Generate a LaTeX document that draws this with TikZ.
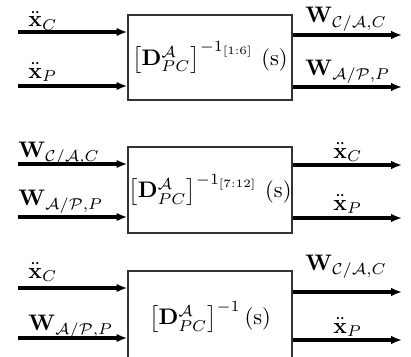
\documentclass[tikz,border=0pt]{standalone}
\usetikzlibrary{arrows.meta}
\begin{document}
\begin{tikzpicture}[x=0.445pt,y=-0.445pt,
 blk/.style={draw=black!80,line width=0.6pt,minimum width=73pt,inner sep=0pt,fill=white},
 arr/.style={line width=1.5pt,-{Latex[length=4.8pt,width=3.8pt]}},
 lbl/.style={inner sep=0pt,anchor=base west}]
\clip (0,0) rectangle (411,356);
% block 1
\node[blk,minimum height=37.8pt] (b1) at (210,57.5) {$\left[\mathbf{D}^{\mathcal{A}}_{PC}\right]^{-1_{[1:6]}}\,(\mathrm{s})$};
\coordinate (i11) at (18,32); \coordinate (i12) at (18,86);
\coordinate (o11) at (402,35); \coordinate (o12) at (402,87);
\draw[arr] (i11) -- (b1.west |- i11);
\draw[arr] (i12) -- (b1.west |- i12);
\draw[arr] (b1.east |- o11) -- (o11);
\draw[arr] (b1.east |- o12) -- (o12);
\node[lbl] (l11) at (28,27) {$\ddot{\mathbf{x}}_C$};
\node[lbl] (l12) at (28,78) {$\ddot{\mathbf{x}}_P$};
\node[lbl] (l13) at (305,23) {$\mathbf{W}_{\mathcal{C}/\mathcal{A},C}$};
\node[lbl] (l14) at (305,75) {$\mathbf{W}_{\mathcal{A}/\mathcal{P},P}$};
% block 2
\node[blk,minimum height=38.3pt] (b2) at (210,190) {$\left[\mathbf{D}^{\mathcal{A}}_{PC}\right]^{-1_{[7:12]}}\,(\mathrm{s})$};
\coordinate (i21) at (18,164); \coordinate (i22) at (18,217);
\coordinate (o21) at (402,165); \coordinate (o22) at (402,218);
\draw[arr] (i21) -- (b2.west |- i21);
\draw[arr] (i22) -- (b2.west |- i22);
\draw[arr] (b2.east |- o21) -- (o21);
\draw[arr] (b2.east |- o22) -- (o22);
\node[lbl] (l21) at (18,157) {$\mathbf{W}_{\mathcal{C}/\mathcal{A},C}$};
\node[lbl] (l22) at (18,205) {$\mathbf{W}_{\mathcal{A}/\mathcal{P},P}$};
\node[lbl] (l23) at (333,158) {$\ddot{\mathbf{x}}_C$};
\node[lbl] (l24) at (333,210) {$\ddot{\mathbf{x}}_P$};
% block 3
\node[blk,minimum height=40.9pt] (b3) at (210,317) {$\left[\mathbf{D}^{\mathcal{A}}_{PC}\right]^{-1}(\mathrm{s})$};
\coordinate (i31) at (18,288); \coordinate (i32) at (18,338);
\coordinate (o31) at (402,292); \coordinate (o32) at (402,340);
\draw[arr] (i31) -- (b3.west |- i31);
\draw[arr] (i32) -- (b3.west |- i32);
\draw[arr] (b3.east |- o31) -- (o31);
\draw[arr] (b3.east |- o32) -- (o32);
\node[lbl] (l31) at (28,278) {$\ddot{\mathbf{x}}_C$};
\node[lbl] (l32) at (28,330) {$\mathbf{W}_{\mathcal{A}/\mathcal{P},P}$};
\node[lbl] (l33) at (305,270) {$\mathbf{W}_{\mathcal{C}/\mathcal{A},C}$};
\node[lbl] (l34) at (333,333) {$\ddot{\mathbf{x}}_P$};
\end{tikzpicture}
\end{document}
